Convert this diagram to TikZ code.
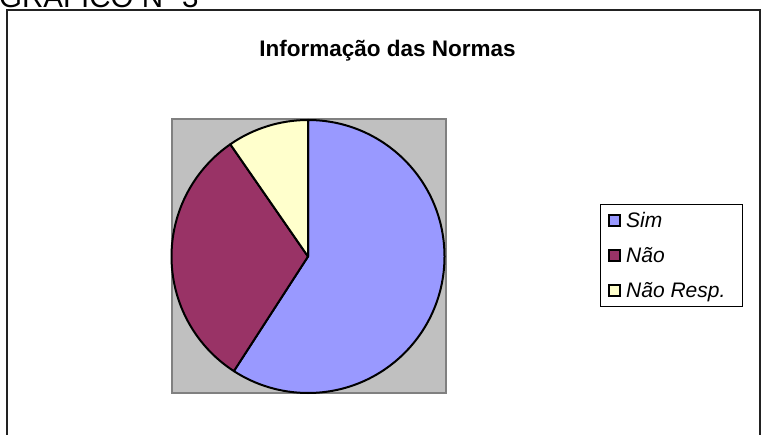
\documentclass[tikz,border=0pt]{standalone}
\usepackage{fontspec}
\setmainfont{Liberation Sans}
\definecolor{simc}{HTML}{9999FF}
\definecolor{naoc}{HTML}{993366}
\definecolor{nrc}{HTML}{FFFFCC}
\definecolor{plotbg}{HTML}{C0C0C0}
\definecolor{plotln}{HTML}{808080}
\definecolor{framec}{HTML}{222222}
\begin{document}
\begin{tikzpicture}[x=1pt,y=1pt,
  slice/.style={draw=black,line width=2pt,line join=round},
  legsq/.style={draw=black,line width=1.6pt,minimum size=11pt,inner sep=0pt},
  legtxt/.style={anchor=base west,inner sep=0pt,font=\fontsize{21}{23}\selectfont\itshape}]
\useasboundingbox (0,0) rectangle (765,-435);
\clip (0,0) rectangle (765,-435);
\fill[white] (0,0) rectangle (765,-435);
% outer frame
\draw[framec,line width=1.6pt] (7,-450) -- (7,-10) -- (760,-10) -- (760,-450);
% heading (cut off)
\node[anchor=base west,inner sep=0pt,font=\fontsize{29.5}{31}\selectfont] (hd) at (-1,-7.5) {GRÁFICO Nº 3};
% title
\node[anchor=base,inner sep=0pt,font=\fontsize{22.5}{24}\selectfont\bfseries] (title) at (387.5,-57) {Informação das Normas};
% plot area
\node[draw=plotln,fill=plotbg,line width=2.2pt,minimum width=274pt,minimum height=274pt,inner sep=0pt] (plot) at (309,-256) {};
\coordinate (c) at (308,-256.5);
\def\R{136.5}
\filldraw[slice,fill=simc] (c) -- ++(90:\R) arc[start angle=90,end angle=-122.9,radius=\R] -- cycle;
\filldraw[slice,fill=naoc] (c) -- ++(-122.9:\R) arc[start angle=237.1,end angle=124.7,radius=\R] -- cycle;
\filldraw[slice,fill=nrc] (c) -- ++(124.7:\R) arc[start angle=124.7,end angle=90,radius=\R] -- cycle;
% legend
\node[draw=black,line width=1pt,minimum width=142pt,minimum height=102pt,inner sep=0pt] (leg) at (671,-256) {};
\node[legsq,fill=simc] (sq1) at (614.5,-220.5) {};
\node[legsq,fill=naoc] (sq2) at (614.5,-255.5) {};
\node[legsq,fill=nrc] (sq3) at (614.5,-290.5) {};
\node[legtxt] (t1) at (626,-228) {Sim};
\node[legtxt] (t2) at (626,-263) {Não};
\node[legtxt] (t3) at (626,-298) {Não Resp.};
\end{tikzpicture}
\end{document}
